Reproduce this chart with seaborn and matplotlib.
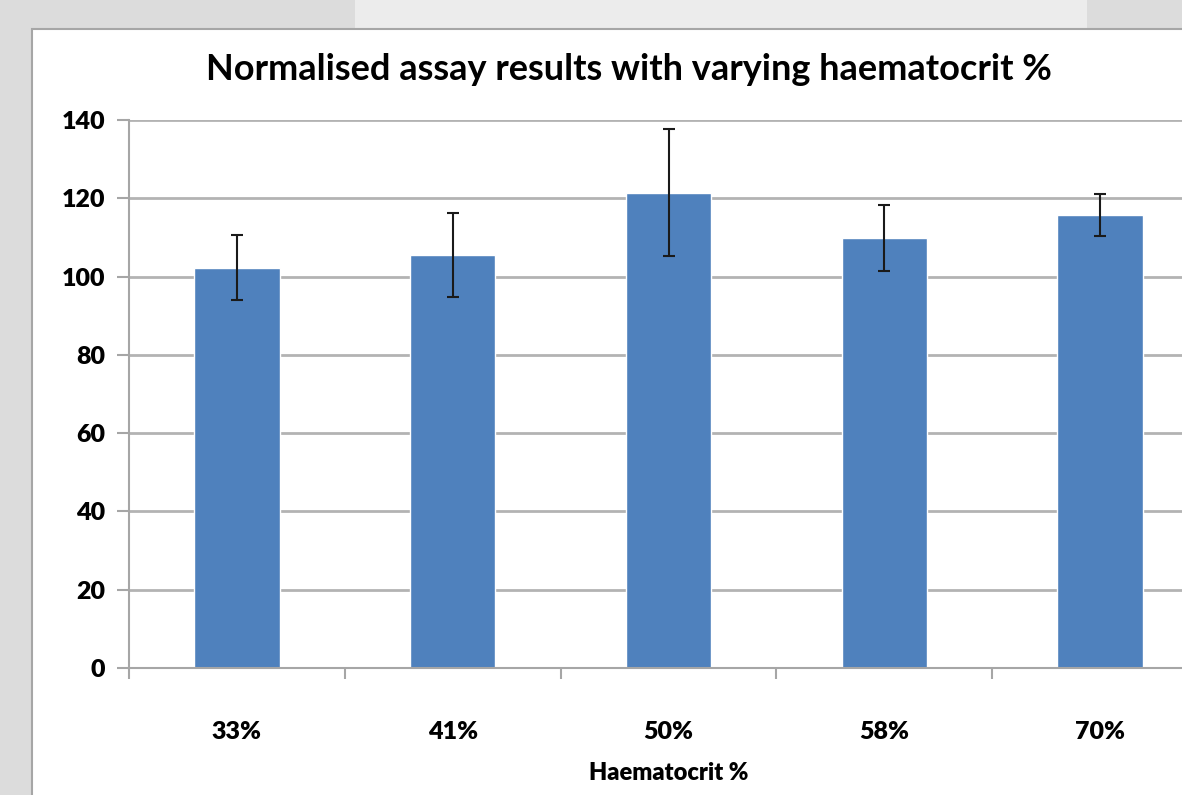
import matplotlib
matplotlib.use("Agg")
import matplotlib.pyplot as plt
import seaborn as sns
import pandas as pd
from matplotlib.patches import Rectangle

sns.set_style("white")
plt.rcParams['font.family'] = ['Lato', 'DejaVu Sans']
plt.rcParams['text.color'] = 'black'
plt.rcParams['xtick.color'] = 'black'
plt.rcParams['ytick.color'] = 'black'
plt.rcParams['axes.labelcolor'] = 'black'

# data
haematocrit = ["33%", "41%", "50%", "58%", "70%"]
result = [102.2, 105.5, 121.4, 109.9, 115.7]
err = [8.3, 10.7, 16.2, 8.5, 5.4]

df = pd.DataFrame({"haematocrit": haematocrit, "result": result})

fig = plt.figure(figsize=(11.82, 7.95), dpi=100)
fig.patch.set_facecolor("#dcdcdc")

# lighter band in the grey backdrop + white chart area
fig.patches.append(Rectangle((0.30, 0.96), 0.62, 0.04, transform=fig.transFigure,
                             facecolor="#ececec", edgecolor="none", zorder=-2))
fig.patches.append(Rectangle((32 / 1182, -0.1), 1.2, 1 - 29 / 795 + 0.1,
                             transform=fig.transFigure, facecolor="white",
                             edgecolor="#a6a6a6", linewidth=1.5, zorder=-1))

ax = fig.add_axes([129 / 1182, 1 - 668 / 795, 1079 / 1182, 548 / 795])
ax.set_facecolor("none")

sns.barplot(data=df, x="haematocrit", y="result", color="#4f81bd",
            saturation=1, width=0.395, errorbar=None, ax=ax, zorder=2)
ax.errorbar(range(len(result)), result, yerr=err, fmt="none", ecolor="#1a1a1a",
            elinewidth=1.5, capsize=4, capthick=1.5, zorder=3)

ax.set_xlim(-0.5, 4.5)
ax.set_ylim(0, 140)
ax.set_yticks(range(0, 141, 20))
ax.yaxis.grid(True, color="#b3b3b3", linewidth=2, zorder=1)
ax.set_axisbelow(True)

for s in ["top", "right"]:
    ax.spines[s].set_visible(False)
for s in ["left", "bottom"]:
    ax.spines[s].set_color("#a6a6a6")
    ax.spines[s].set_linewidth(1.5)

# category boundary ticks like Excel
ax.set_xticks([-0.5, 0.5, 1.5, 2.5, 3.5, 4.5], minor=True)
ax.tick_params(axis="x", which="minor", bottom=True, length=8, width=1.5,
               color="#a6a6a6", direction="out")
ax.tick_params(axis="x", which="major", bottom=True, length=0, pad=38, labelsize=18)
ax.tick_params(axis="y", left=True, length=9, width=1.5, color="#a6a6a6",
               direction="out", pad=8, labelsize=18)
for lbl in ax.get_xticklabels() + ax.get_yticklabels():
    lbl.set_fontweight("heavy")

ax.set_xlabel("Haematocrit %", fontsize=17, fontweight="heavy", labelpad=14)
ax.set_ylabel("")
fig.text(629 / 1182, 1 - 70 / 795, "Normalised assay results with varying haematocrit %",
         ha="center", va="center", fontsize=26, fontweight="bold")

fig.savefig("out.png", dpi=100)
